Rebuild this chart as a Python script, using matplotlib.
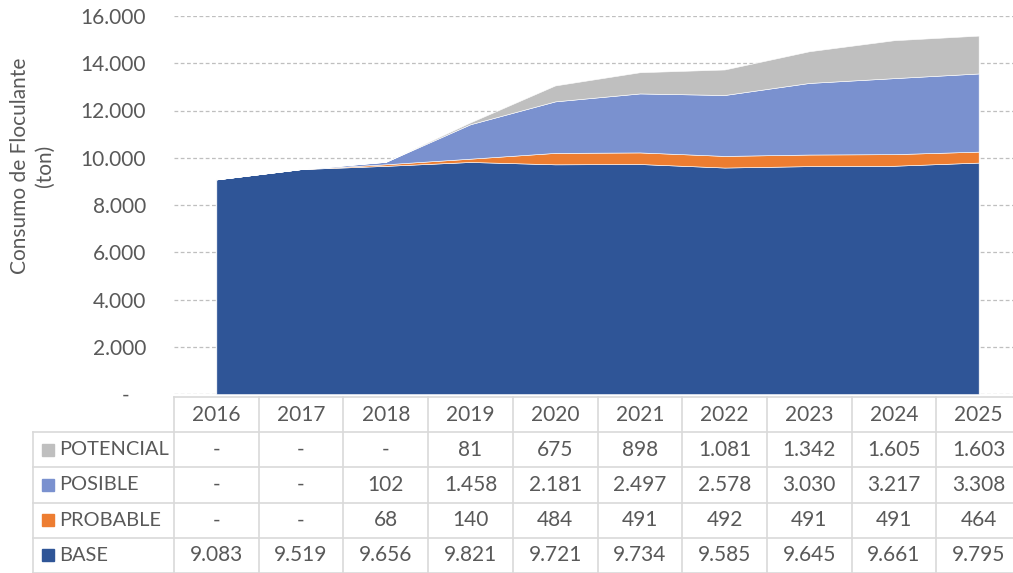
import matplotlib.pyplot as plt
from matplotlib.ticker import FuncFormatter
from matplotlib.patches import Rectangle

# data
years = [2016, 2017, 2018, 2019, 2020, 2021, 2022, 2023, 2024, 2025]
base = [9083, 9519, 9656, 9821, 9721, 9734, 9585, 9645, 9661, 9795]
probable = [0, 0, 68, 140, 484, 491, 492, 491, 491, 464]
posible = [0, 0, 102, 1458, 2181, 2497, 2578, 3030, 3217, 3308]
potencial = [0, 0, 0, 81, 675, 898, 1081, 1342, 1605, 1603]

names = ["BASE", "PROBABLE", "POSIBLE", "POTENCIAL"]
colors = ["#2F5597", "#ED7D31", "#7A91CF", "#BFBFBF"]
series = [base, probable, posible, potencial]

txt = "#595959"
grid_c = "#D9D9D9"
plt.rcParams['font.family'] = ['Lato', 'DejaVu Sans']
fs = 15

W, H = 1013, 573
fig = plt.figure(figsize=(W / 100, H / 100), dpi=100)

# plot area in pixels
x0, x1 = 174, 1021
y_top, y_bot = 16, 394
ax = fig.add_axes([x0 / W, 1 - y_bot / H, (x1 - x0) / W, (y_bot - y_top) / H])

xs = list(range(len(years)))
ax.stackplot(xs, *series, colors=colors, edgecolor="white", linewidth=0.4)
ax.set_xlim(-0.5, len(years) - 0.5)
ax.set_ylim(0, 16000)
ax.set_yticks(range(0, 16001, 2000))
ax.yaxis.set_major_formatter(FuncFormatter(
    lambda v, p: "-   " if v == 0 else f"{int(v):,}".replace(",", ".")))
ax.tick_params(axis="y", length=0, labelsize=fs, labelcolor=txt, pad=20)
ax.set_xticks([])
ax.yaxis.grid(True, color="#BFBFBF", linestyle=(0, (3, 2)), linewidth=0.9)
ax.set_axisbelow(True)
for s in ax.spines.values():
    s.set_visible(False)

fig.text(32 / W, 1 - 166 / H, "Consumo de Floculante\n(ton)", rotation=90,
         ha="center", va="center", fontsize=fs, color=txt, linespacing=1.3)

# data table below the plot
t_top, t_bot = 397, 573
tab = fig.add_axes([x0 / W, 1 - t_bot / H, (x1 - x0) / W, (t_bot - t_top) / H])
tab.set_xlim(-0.5, len(years) - 0.5)
tab.set_ylim(5, 0)
tab.axis("off")
col_w = (x1 - x0) / len(years)
lab_left = -0.5 - (x0 - 33) / col_w

lw = 1.2
# header row
tab.plot([-0.5, len(years) - 0.5], [0, 0], color=grid_c, lw=lw, clip_on=False)
for i in range(len(years) + 1):
    tab.plot([i - 0.5, i - 0.5], [0, 5], color=grid_c, lw=lw, clip_on=False)
tab.plot([lab_left, lab_left], [1, 5], color=grid_c, lw=lw, clip_on=False)
for r in range(1, 6):
    tab.plot([lab_left, len(years) - 0.5], [r, r], color=grid_c, lw=lw, clip_on=False)
for i, y in enumerate(years):
    tab.text(i, 0.5, str(y), ha="center", va="center", fontsize=fs, color=txt)

rows = list(zip(names, colors, series))[::-1]
sq = 12 / col_w
for r, (name, c, vals) in enumerate(rows, start=1):
    tab.add_patch(Rectangle((lab_left + 9 / col_w, r + 0.5 - 0.17), sq, 0.34,
                            color=c, clip_on=False))
    tab.text(lab_left + 26 / col_w, r + 0.5, name, ha="left", va="center",
             fontsize=14.4, color=txt, clip_on=False)
    for i, v in enumerate(vals):
        s = "-" if v == 0 else f"{v:,}".replace(",", ".")
        tab.text(i, r + 0.5, s, ha="center", va="center", fontsize=fs, color=txt)

fig.savefig("out.png", dpi=100)
